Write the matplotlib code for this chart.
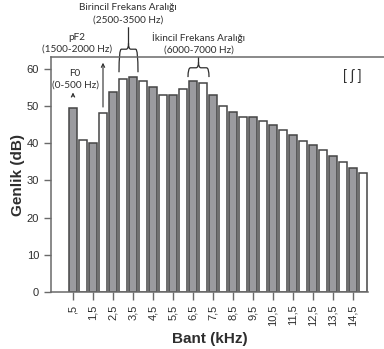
import numpy as np
import matplotlib
matplotlib.use("Agg")
import matplotlib.pyplot as plt
from matplotlib.path import Path
from matplotlib.patches import PathPatch
from matplotlib.lines import Line2D

# band centres (kHz) and levels (dB)
bands = [0.5, 1.0, 1.5, 2.0, 2.5, 3.0, 3.5, 4.0, 4.5, 5.0,
         5.5, 6.0, 6.5, 7.0, 7.5, 8.0, 8.5, 9.0, 9.5, 10.0,
         10.5, 11.0, 11.5, 12.0, 12.5, 13.0, 13.5, 14.0, 14.5, 15.0]
levels = [49.6, 40.9, 40.1, 48.2, 53.8, 57.3, 57.9, 56.7, 55.0, 53.0,
          53.0, 54.5, 56.8, 56.3, 53.1, 50.0, 48.3, 47.1, 47.0, 46.1,
          44.8, 43.5, 42.1, 40.7, 39.6, 38.2, 36.6, 34.9, 33.3, 32.1]
tick_pos = [0.5, 1.5, 2.5, 3.5, 4.5, 5.5, 6.5, 7.5, 8.5, 9.5, 10.5, 11.5, 12.5, 13.5, 14.5]
tick_labels = [",5", "1,5", "2,5", "3,5", "4,5", "5,5", "6,5", "7,5", "8,5", "9,5",
               "10,5", "11,5", "12,5", "13,5", "14,5"]
y_ticks = [0, 10, 20, 30, 40, 50, 60]

GRAY = "#9b9b9f"
EDGE = "#454545"
AXC = "#6a6a6a"
TXT = "#2e2e2e"
note_font = "Lato"

plt.rcParams["font.family"] = ["Liberation Sans", "DejaVu Sans"]

fig = plt.figure(figsize=(3.84, 3.49), dpi=100)
ax = fig.add_axes([51 / 384, 1 - 292 / 349, (368 - 51) / 384, (292 - 57) / 349])

colors = [GRAY if i % 2 == 0 else "white" for i in range(len(bands))]
ax.bar(bands, levels, width=0.38, color=colors, edgecolor=EDGE, linewidth=1.1, zorder=2)

ax.set_xlim(-0.6, 15.25)
ax.set_ylim(0, 63.2)
ax.set_yticks(y_ticks)
ax.set_xticks(tick_pos)
ax.set_xticklabels(tick_labels, rotation=90, fontsize=8, color=TXT)
ax.tick_params(axis="y", labelsize=8, labelcolor=TXT, color=AXC, length=5, width=1)
ax.tick_params(axis="x", color=AXC, length=6, width=1, pad=3)

ax.spines["right"].set_visible(False)
ax.spines["top"].set_visible(False)
for s in ["left", "bottom"]:
    ax.spines[s].set_color(AXC)
    ax.spines[s].set_linewidth(1.1)

# frame line on top reaches the figure edge
top_y = 1 - 57 / 349
fig.add_artist(Line2D([51 / 384, 1.0], [top_y, top_y], color=AXC, linewidth=1.1))

ax.set_ylabel("Genlik (dB)", fontsize=11, fontweight="bold", color=TXT, labelpad=1)
ax.set_xlabel("Bant (kHz)", fontsize=11, fontweight="bold", color=TXT, labelpad=4)


def brace(x0, x1, y_end, y_mid, y_cusp, y_stem):
    xm = (x0 + x1) / 2
    r = (x1 - x0) * 0.12
    verts = [(x0, y_end), (x0, y_mid), (x0 + r, y_mid),
             (xm - r, y_mid), (xm, y_mid), (xm, y_cusp),
             (xm, y_stem),
             (xm, y_cusp), (xm, y_mid), (xm + r, y_mid),
             (x1 - r, y_mid), (x1, y_mid), (x1, y_end)]
    codes = [Path.MOVETO, Path.CURVE3, Path.CURVE3,
             Path.LINETO, Path.CURVE3, Path.CURVE3,
             Path.LINETO,
             Path.MOVETO, Path.CURVE3, Path.CURVE3,
             Path.LINETO, Path.CURVE3, Path.CURVE3]
    ax.add_patch(PathPatch(Path(verts, codes), fill=False, edgecolor=TXT,
                           linewidth=0.9, clip_on=False))


kw = dict(ha="center", va="center", fontsize=7.2, color=TXT, family=note_font,
          clip_on=False, linespacing=1.4)

# F0
ax.text(0.6, 57.2, "F0\n(0-500 Hz)", **kw)
ax.annotate("", xy=(0.5, 54.4), xytext=(0.5, 51.8),
            arrowprops=dict(arrowstyle="->", color=TXT, lw=0.8, mutation_scale=6),
            annotation_clip=False)

# pF2
ax.text(0.7, 66.9, "pF2\n(1500-2000 Hz)", **kw)
ax.annotate("", xy=(2.0, 62.4), xytext=(2.0, 49.0),
            arrowprops=dict(arrowstyle="->", color=TXT, lw=0.8, mutation_scale=6),
            annotation_clip=False)

# first range
ax.text(3.25, 74.8, "Birincil Frekans Aralığı\n(2500-3500 Hz)", **kw)
brace(2.8, 3.75, 59.1, 65.3, 66.9, 71.2)

# second range
ax.text(6.78, 66.9, "İkincil Frekans Aralığı\n(6000-7000 Hz)", **kw)
brace(6.25, 7.3, 57.8, 60.3, 61.8, 63.2)

ax.text(14.45, 58.0, "[ ʃ ]", ha="center", va="center", fontsize=10, color=TXT)

fig.savefig("out.png", dpi=100)
